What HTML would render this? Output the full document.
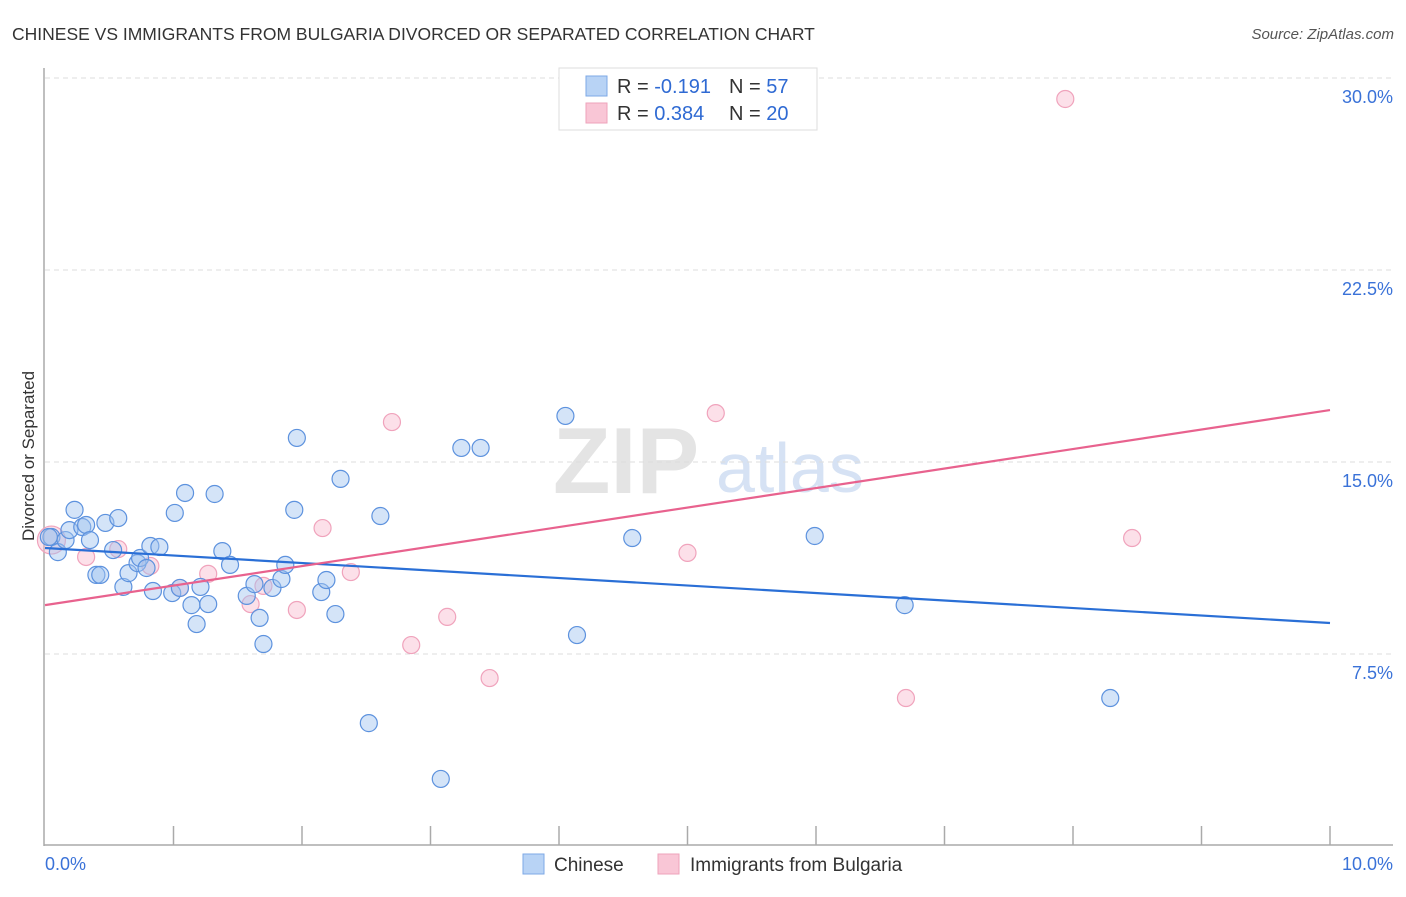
<!DOCTYPE html>
<html><head><meta charset="utf-8"><style>
body{margin:0;background:#fff;font-family:"Liberation Sans",sans-serif;}
svg text{font-family:"Liberation Sans",sans-serif;}
</style></head><body>
<svg id="chart" width="1406" height="892" xmlns="http://www.w3.org/2000/svg">
<text x="12" y="40" font-size="17.5" fill="#333">CHINESE VS IMMIGRANTS FROM BULGARIA DIVORCED OR SEPARATED CORRELATION CHART</text>
<text x="1394" y="39" font-size="15" fill="#555" font-style="italic" text-anchor="end">Source: ZipAtlas.com</text>
<text x="34" y="456" font-size="17" fill="#333" text-anchor="middle" transform="rotate(-90 34 456)">Divorced or Separated</text>
<g>
<text x="553" y="493" font-size="94" font-family="Liberation Serif" fill="#e4e4e4" font-weight="bold">ZIP</text>
<text x="716" y="492" font-size="70" fill="#d6e2f4">atlas</text>
</g>
<g id="grid"></g>
<g id="axes"></g>
<g id="points"></g>
<g id="trends"></g>
<g>
<rect x="559" y="68" width="258" height="62" fill="#fff" stroke="#ddd"/>
<rect x="586" y="76" width="21" height="20" fill="#b8d3f5" stroke="#7ea8e6"/>
<rect x="586" y="103" width="21" height="20" fill="#f9c6d6" stroke="#eea3bb"/>
<text x="617" y="93" font-size="20" fill="#333">R = <tspan fill="#2f6ad3">-0.191</tspan></text>
<text x="729" y="93" font-size="20" fill="#333">N = <tspan fill="#2f6ad3"> 57</tspan></text>
<text x="617" y="120" font-size="20" fill="#333">R = <tspan fill="#2f6ad3"> 0.384</tspan></text>
<text x="729" y="120" font-size="20" fill="#333">N = <tspan fill="#2f6ad3">20</tspan></text>
</g>
<g>
<rect x="523" y="854" width="21" height="20" fill="#b8d3f5" stroke="#7ea8e6"/>
<text x="554" y="871" font-size="19" fill="#333">Chinese</text>
<rect x="658" y="854" width="21" height="20" fill="#f9c6d6" stroke="#eea3bb"/>
<text x="690" y="871" font-size="19" fill="#333">Immigrants from Bulgaria</text>
</g>
</svg>
<script>
const blueX=[0.05,0.10,0.16,0.23,0.19,0.29,0.32,0.35,0.40,0.43,0.47,0.57,0.53,0.61,0.65,0.72,0.74,0.79,0.82,0.84,0.89,0.99,1.01,1.05,1.09,1.14,1.18,1.21,1.27,1.32,1.38,1.44,1.57,1.63,1.67,1.70,1.77,1.84,1.87,1.94,1.96,2.15,2.19,2.26,2.30,2.52,2.61,3.08,3.24,3.39,4.05,4.14,4.57,5.99,6.69,8.29,0.03];
const blueY=[12.07,11.48,11.95,13.13,12.34,12.46,12.54,11.95,10.59,10.59,12.62,12.81,11.56,10.12,10.66,11.05,11.25,10.86,11.72,9.96,11.68,9.88,13.01,10.08,13.79,9.41,8.67,10.12,9.45,13.75,11.52,10.98,9.77,10.23,8.91,7.89,10.08,10.43,10.98,13.13,15.94,9.92,10.39,9.06,14.34,4.80,12.89,2.62,15.55,15.55,16.80,8.24,12.03,12.11,9.41,5.78,12.07];
const pinkX=[0.05,0.32,0.57,0.82,1.05,1.27,1.60,1.70,1.96,2.16,2.38,2.70,2.85,3.13,3.46,5.00,5.22,6.70,7.94,8.46];
const pinkY=[11.95,11.29,11.60,10.94,10.08,10.63,9.45,10.16,9.22,12.42,10.70,16.56,7.85,8.95,6.56,11.45,16.91,5.78,29.18,12.03];
const blueTrend=[11.64,8.71];
const pinkTrend=[9.41,17.03];
const yTicks=[7.5,15.0,22.5,30.0];
const yTickLabels=["7.5%","15.0%","22.5%","30.0%"];
const xTickCount=10;

const NS="http://www.w3.org/2000/svg";
const X0=45,X1=1330,Y0=846,Y1=78;
function sx(v){return X0+(v/10)*(X1-X0);}
function sy(v){return Y0-(v/30)*(Y0-Y1);}
function mk(tag,attrs,parent){const e=document.createElementNS(NS,tag);for(const k in attrs)e.setAttribute(k,attrs[k]);parent.appendChild(e);return e;}
const grid=document.getElementById('grid'),axes=document.getElementById('axes'),pts=document.getElementById('points'),tr=document.getElementById('trends');
yTicks.forEach((t,i)=>{
  const l=mk('line',{x1:45,x2:1393,y1:sy(t),y2:sy(t),stroke:'#ddd','stroke-dasharray':'5,4'},grid);
  
  
  const tx=mk('text',{x:1393,y:sy(t)+25,'font-size':18,fill:'#3a72d8','text-anchor':'end'},axes);
  tx.textContent=yTickLabels[i];
  
  
});
const ya=mk('line',{x1:44,x2:44,y1:68,y2:846,stroke:'#aaa','stroke-width':1.5},axes);


const xa=mk('line',{x1:44,x2:1393,y1:845,y2:845,stroke:'#aaa','stroke-width':1.5},axes);


for(let i=1;i<=xTickCount;i++){
  const t=mk('line',{x1:sx(i),x2:sx(i),y1:826,y2:845,stroke:'#aaa','stroke-width':1.5},axes);
  
  
}
const xl0=mk('text',{x:45,y:870,'font-size':18,fill:'#3a72d8'},axes);xl0.textContent='0.0%';


const xl1=mk('text',{x:1393,y:870,'font-size':18,fill:'#3a72d8','text-anchor':'end'},axes);xl1.textContent='10.0%';


pinkX.forEach((x,i)=>{
  const c=mk('circle',{cx:sx(x),cy:sy(pinkY[i]),r:i===0?14:8.5,fill:'rgba(248,186,206,0.45)',stroke:'#f0a3bc','stroke-width':1.2},pts);
  
  
});
blueX.forEach((x,i)=>{
  const c=mk('circle',{cx:sx(x),cy:sy(blueY[i]),r:8.5,fill:'rgba(160,196,240,0.45)',stroke:'#5d92de','stroke-width':1.2},pts);
  
  
});
const bl=mk('line',{x1:sx(0),y1:sy(blueTrend[0]),x2:sx(10),y2:sy(blueTrend[1]),stroke:'#2a6fd6','stroke-width':2.2},tr);


const pl=mk('line',{x1:sx(0),y1:sy(pinkTrend[0]),x2:sx(10),y2:sy(pinkTrend[1]),stroke:'#e8628e','stroke-width':2.2},tr);


</script>
</body></html>
